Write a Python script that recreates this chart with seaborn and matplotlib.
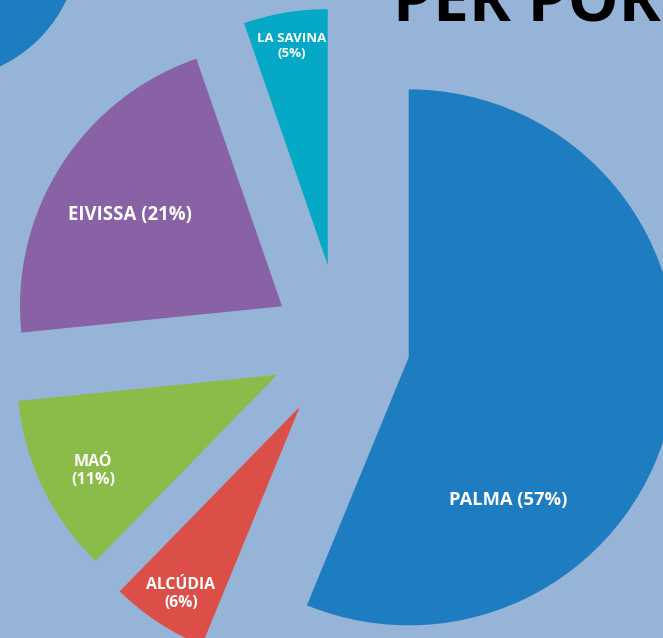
# Pie chart of share per port (exploded wedges)
import matplotlib
matplotlib.use("Agg")
import matplotlib.pyplot as plt
from matplotlib.patches import Circle
import seaborn as sns

# Data (wedge sizes, labels as printed)
ports = ["PALMA", "ALCÚDIA", "MAÓ", "EIVISSA", "LA SAVINA"]
shares = [56.2, 6.1, 11.1, 21.3, 5.3]
label_texts = ["PALMA (57%)", "ALCÚDIA\n(6%)", "MAÓ\n(11%)", "EIVISSA (21%)", "LA SAVINA\n(5%)"]
colors = ["#1e7dc0", "#dc4f48", "#8bbb48", "#8862a5", "#06a9c5"]

# Layout (pixel based, y up)
W, H = 663, 638
bg = "#96b3d8"
center = (341, 294)
radius = 260
explode = [69, 75, 71, 70, 80]  # offsets in pixels
radii = [268, 258, 260, 262, 256]
label_pos = [(508, 138), (181, 44), (93, 167), (130, 423), (292, 592)]
label_size = [13.2, 11.3, 11.5, 13.4, 9.5]

sns.set_theme(style="white")
plt.rcParams['font.family'] = ['Open Sans', 'DejaVu Sans']

fig = plt.figure(figsize=(W / 100, H / 100), dpi=100, facecolor=bg)
ax = fig.add_axes([0, 0, 1, 1])
ax.set_facecolor(bg)

wedges, _ = ax.pie(shares, colors=colors, explode=explode, startangle=90,
                   counterclock=False, radius=radius, center=center,
                   wedgeprops=dict(linewidth=0))
# small differences in wedge size
for w, r in zip(wedges, radii):
    w.set_radius(r)

for (x, y), txt, fs in zip(label_pos, label_texts, label_size):
    ax.text(x, y, txt, color="white", fontsize=fs, fontweight="bold",
            ha="center", va="center", linespacing=1.15)

# decoration: part of a blue disc in the top-left corner
ax.add_patch(Circle((-60, H + 60), 140, color="#1e7dc0", lw=0))

ax.set_xlim(0, W)
ax.set_ylim(0, H)
ax.set_aspect("equal")
ax.axis("off")

# title, cut at the top edge like in the source image
fig.text(393 / W, 1 - 22 / H, "PER PORTS", fontsize=46, fontweight="bold",
         color="black", ha="left", va="baseline")

plt.savefig("out.png", dpi=100, facecolor=bg)
